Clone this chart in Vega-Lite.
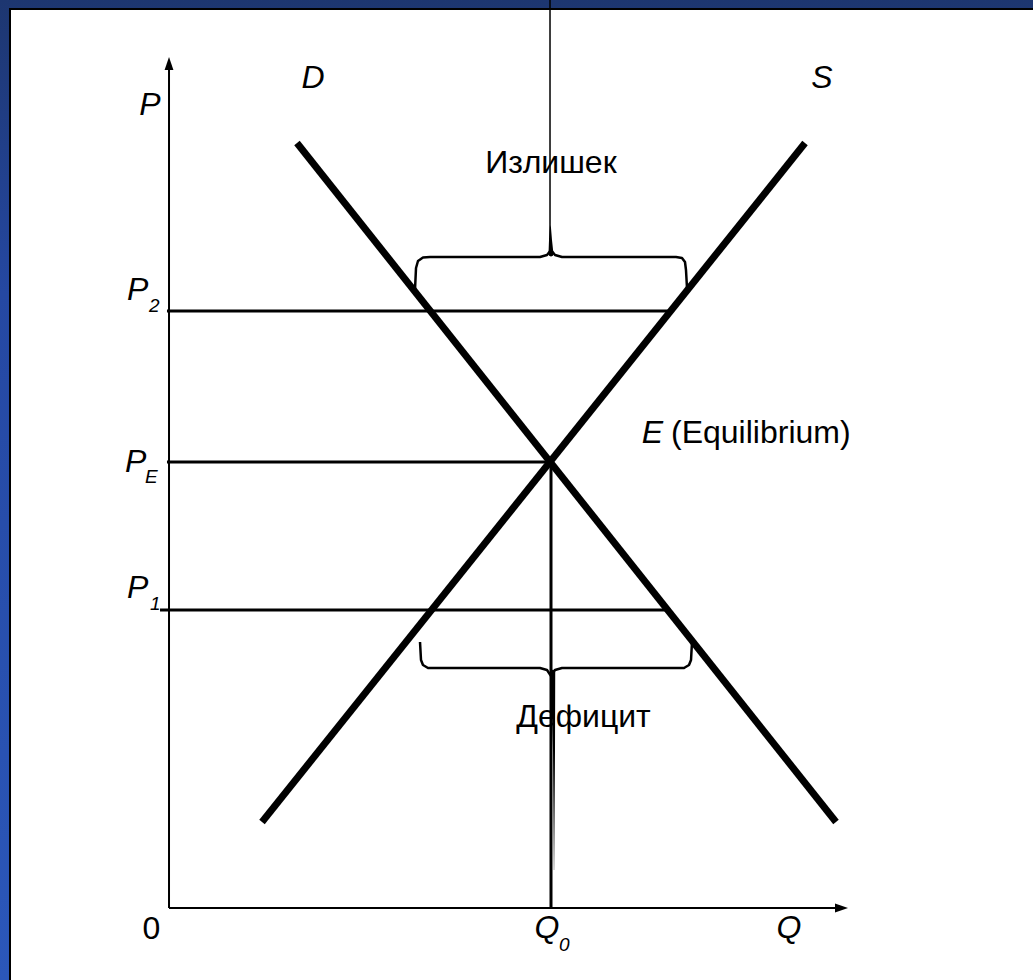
{
  "$schema": "https://vega.github.io/schema/vega-lite/v6.json",
  "width": 1033,
  "height": 980,
  "autosize": {"type": "none"},
  "padding": 0,
  "background": "#1E3A72",
  "config": {"view": {"stroke": null}, "text": {"font": "Liberation Sans", "color": "#000000"}},
  "datasets": {
    "frame": [{"Q": -4.4619, "Q2": 22.6509, "P": -1.6143, "P2": 20.3587}],
    "slide": [{"Q": -4.1995, "Q2": 23.5, "P": -2.5, "P2": 20.157}],
    "curves": [
      {"curve": "D", "Q": 3.333, "P": 17.152},
      {"curve": "D", "Q": 17.48, "P": 1.928},
      {"curve": "S", "Q": 2.415, "P": 1.928},
      {"curve": "S", "Q": 16.667, "P": 17.152}
    ],
    "levels": [
      {"level": "P2", "Q": -0.079, "Q2": 13.1, "P": 13.386},
      {"level": "PE", "Q": -0.079, "Q2": 10.0, "P": 10.0},
      {"level": "P1", "Q": -0.262, "Q2": 13.05, "P": 6.682}
    ],
    "q0": [{"Q": 10.0, "P": 0, "P2": 10.0}],
    "axes": [
      {"axis": "P", "Q": -0.026, "Q2": -0.026, "P": 0, "P2": 18.79},
      {"axis": "Q", "Q": -0.026, "Q2": 17.48, "P": 0, "P2": 0}
    ],
    "arrows": [
      {"dir": "up", "Q": -0.026, "P": 18.935},
      {"dir": "right", "Q": 17.625, "P": 0}
    ],
    "braces": [
      {"brace": "surplus", "i": 1, "Q": 6.43, "P": 13.857},
      {"brace": "surplus", "i": 2, "Q": 6.457, "P": 14.35},
      {"brace": "surplus", "i": 3, "Q": 6.509, "P": 14.507},
      {"brace": "surplus", "i": 4, "Q": 6.64, "P": 14.585},
      {"brace": "surplus", "i": 5, "Q": 6.824, "P": 14.596},
      {"brace": "surplus", "i": 6, "Q": 9.711, "P": 14.596},
      {"brace": "surplus", "i": 7, "Q": 9.895, "P": 14.641},
      {"brace": "surplus", "i": 8, "Q": 10.0, "P": 14.753},
      {"brace": "surplus", "i": 9, "Q": 10.105, "P": 14.641},
      {"brace": "surplus", "i": 10, "Q": 10.289, "P": 14.596},
      {"brace": "surplus", "i": 11, "Q": 13.281, "P": 14.596},
      {"brace": "surplus", "i": 12, "Q": 13.438, "P": 14.574},
      {"brace": "surplus", "i": 13, "Q": 13.517, "P": 14.484},
      {"brace": "surplus", "i": 14, "Q": 13.543, "P": 14.305},
      {"brace": "surplus", "i": 15, "Q": 13.57, "P": 13.901},
      {"brace": "deficit", "i": 1, "Q": 6.562, "P": 5.964},
      {"brace": "deficit", "i": 2, "Q": 6.588, "P": 5.561},
      {"brace": "deficit", "i": 3, "Q": 6.64, "P": 5.448},
      {"brace": "deficit", "i": 4, "Q": 6.772, "P": 5.381},
      {"brace": "deficit", "i": 5, "Q": 9.711, "P": 5.381},
      {"brace": "deficit", "i": 6, "Q": 9.895, "P": 5.336},
      {"brace": "deficit", "i": 7, "Q": 10.0, "P": 5.202},
      {"brace": "deficit", "i": 8, "Q": 10.105, "P": 5.336},
      {"brace": "deficit", "i": 9, "Q": 10.289, "P": 5.381},
      {"brace": "deficit", "i": 10, "Q": 13.491, "P": 5.381},
      {"brace": "deficit", "i": 11, "Q": 13.622, "P": 5.448},
      {"brace": "deficit", "i": 12, "Q": 13.675, "P": 5.561},
      {"brace": "deficit", "i": 13, "Q": 13.701, "P": 5.964}
    ],
    "tails": [
      {"tail": "up", "i": 1, "Q": 9.974, "P": 20.359, "w": 1.5},
      {"tail": "up", "i": 2, "Q": 9.974, "P": 15.314, "w": 1.5},
      {"tail": "up", "i": 3, "Q": 9.987, "P": 14.978, "w": 3},
      {"tail": "up", "i": 4, "Q": 10.0, "P": 14.664, "w": 5},
      {"tail": "down", "i": 1, "Q": 10.052, "P": 5.291, "w": 4.5},
      {"tail": "down", "i": 2, "Q": 10.079, "P": 3.543, "w": 2},
      {"tail": "down", "i": 3, "Q": 10.079, "P": 0.852, "w": 0.3}
    ],
    "italicCenter": [
      {"label": "P", "Q": -0.525, "P": 17.78},
      {"label": "D", "Q": 3.753, "P": 18.386},
      {"label": "S", "Q": 17.113, "P": 18.386},
      {"label": "Q", "Q": 16.247, "P": -0.673},
      {"label": "Q", "Q": 9.895, "P": -0.673}
    ],
    "italicLeft": [
      {"label": "P", "Q": -1.129, "P": 13.632},
      {"label": "P", "Q": -1.181, "P": 9.776},
      {"label": "P", "Q": -1.129, "P": 6.951},
      {"label": "E", "Q": 12.381, "P": 10.426}
    ],
    "subs": [
      {"label": "2", "Q": -0.551, "P": 13.363},
      {"label": "E", "Q": -0.656, "P": 9.529},
      {"label": "1", "Q": -0.525, "P": 6.682},
      {"label": "0", "Q": 10.21, "P": -0.964}
    ],
    "plainCenter": [
      {"label": "Излишек", "Q": 10.0, "P": 16.48},
      {"label": "Дефицит", "Q": 10.853, "P": 4.058},
      {"label": "0", "Q": -0.486, "P": -0.695}
    ],
    "plainLeft": [
      {"label": "(Equilibrium)", "Q": 13.15, "P": 10.426}
    ]
  },
  "encoding": {
    "x": {"field": "Q", "type": "quantitative", "scale": {"domain": [-4.4619, 22.6509], "nice": false, "zero": false}, "axis": null},
    "y": {"field": "P", "type": "quantitative", "scale": {"domain": [-1.6143, 20.3587], "nice": false, "zero": false}, "axis": null}
  },
  "layer": [
    {
      "data": {"name": "frame"},
      "mark": {"type": "rect", "fill": {"gradient": "linear", "x1": 0, "y1": 0, "x2": 0, "y2": 1, "stops": [{"offset": 0, "color": "#1D3670"}, {"offset": 0.3, "color": "#2548A2"}, {"offset": 1, "color": "#2B57BA"}]}},
      "encoding": {"x2": {"field": "Q2"}, "y2": {"field": "P2"}}
    },
    {
      "data": {"name": "slide"},
      "mark": {"type": "rect", "fill": "#ffffff", "stroke": "#000000", "strokeWidth": 2},
      "encoding": {"x2": {"field": "Q2"}, "y2": {"field": "P2"}}
    },
    {
      "data": {"name": "curves"},
      "mark": {"type": "line", "color": "#000000", "strokeWidth": 7, "strokeCap": "butt"},
      "encoding": {"detail": {"field": "curve"}}
    },
    {
      "data": {"name": "levels"},
      "mark": {"type": "rule", "color": "#000000", "strokeWidth": 3},
      "encoding": {"x2": {"field": "Q2"}}
    },
    {
      "data": {"name": "q0"},
      "mark": {"type": "rule", "color": "#000000", "strokeWidth": 3},
      "encoding": {"y2": {"field": "P2"}}
    },
    {
      "data": {"name": "axes"},
      "mark": {"type": "rule", "color": "#000000", "strokeWidth": 2},
      "encoding": {"x2": {"field": "Q2"}, "y2": {"field": "P2"}}
    },
    {
      "data": {"name": "arrows"},
      "mark": {"type": "point", "filled": true, "color": "#000000", "opacity": 1, "size": 169},
      "encoding": {"shape": {"field": "dir", "type": "nominal", "scale": {"domain": ["up", "right"], "range": ["M0,-1L0.68,1L-0.68,1Z", "M1,0L-1,0.68L-1,-0.68Z"]}, "legend": null}}
    },
    {
      "data": {"name": "braces"},
      "mark": {"type": "line", "color": "#000000", "strokeWidth": 2.5, "strokeJoin": "round"},
      "encoding": {"detail": {"field": "brace"}, "order": {"field": "i", "type": "quantitative"}}
    },
    {
      "data": {"name": "tails"},
      "mark": {"type": "trail", "color": "#000000"},
      "encoding": {"detail": {"field": "tail"}, "order": {"field": "i", "type": "quantitative"}, "size": {"field": "w", "type": "quantitative", "scale": null, "legend": null}}
    },
    {
      "data": {"name": "italicCenter"},
      "mark": {"type": "text", "fontSize": 32, "fontStyle": "italic", "align": "center", "baseline": "alphabetic"},
      "encoding": {"text": {"field": "label"}}
    },
    {
      "data": {"name": "italicLeft"},
      "mark": {"type": "text", "fontSize": 32, "fontStyle": "italic", "align": "left", "baseline": "alphabetic"},
      "encoding": {"text": {"field": "label"}}
    },
    {
      "data": {"name": "subs"},
      "mark": {"type": "text", "fontSize": 19, "fontStyle": "italic", "align": "left", "baseline": "alphabetic"},
      "encoding": {"text": {"field": "label"}}
    },
    {
      "data": {"name": "plainCenter"},
      "mark": {"type": "text", "fontSize": 32, "align": "center", "baseline": "alphabetic"},
      "encoding": {"text": {"field": "label"}}
    },
    {
      "data": {"name": "plainLeft"},
      "mark": {"type": "text", "fontSize": 32, "align": "left", "baseline": "alphabetic"},
      "encoding": {"text": {"field": "label"}}
    }
  ]
}
